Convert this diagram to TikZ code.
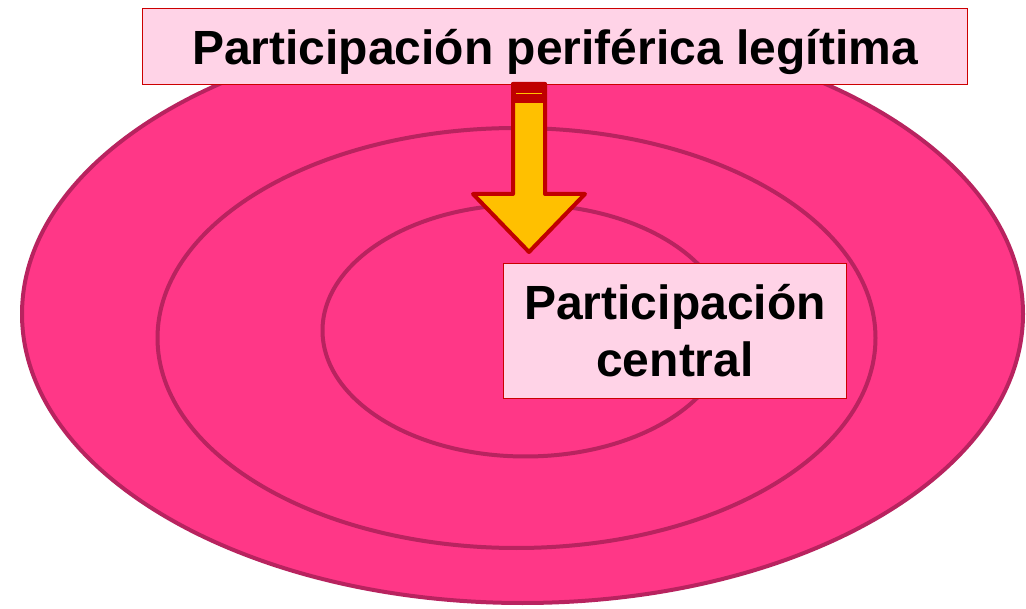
\documentclass[tikz,border=0pt]{standalone}
\usepackage{fontspec}
\setmainfont{Liberation Sans}
\definecolor{ringfill}{HTML}{FF3787}
\definecolor{ringline}{HTML}{B8235F}
\definecolor{boxfill}{HTML}{FFD3E7}
\definecolor{boxline}{HTML}{CC0000}
\definecolor{arrowfill}{HTML}{FFC000}
\definecolor{arrowline}{HTML}{C00000}
\tikzset{
  ring/.style={fill=ringfill, draw=ringline, line width=4pt},
  namebox/.style={fill=boxfill, draw=boxline, line width=1.5pt, inner sep=0pt,
    font=\bfseries\fontsize{48}{57}\selectfont},
  blockarrow/.style={fill=arrowfill, draw=arrowline, line width=4pt, line join=round},
  arrowband/.style={fill=arrowline, draw=arrowline, line width=4pt, line join=round},
}
\begin{document}
\begin{tikzpicture}[x=1pt,y=-1pt]
  \useasboundingbox (0,0) rectangle (1026,609);
  % rings
  \draw[ring] (522.5,314) ellipse [x radius=500.5, y radius=289];
  \draw[ring] (516.5,338) ellipse [x radius=359, y radius=210];
  \draw[ring] (525.5,330.5) ellipse [x radius=203, y radius=126];
  % labels
  \node[namebox, minimum width=825pt, minimum height=76pt, text height=37pt, text depth=0pt]
    (periphery) at (555,46.5) {Participación periférica legítima};
  \node[namebox, minimum width=343pt, minimum height=135pt, align=center]
    (core) at (675,331) {Participación\\central};
  % arrow
  \coordinate (tail) at (529,84);
  \coordinate (tip) at (529,252);
  \draw[blockarrow] ([xshift=-16pt]tail) -- ([xshift=16pt]tail) -- ++(0,110) -- ++(40,0)
    -- (tip) -- ++(-56,-58) -- ++(40,0) -- cycle;
  \draw[arrowband] ([xshift=-16pt]tail) rectangle ([xshift=16pt,yshift=-17pt]tail);
  \draw[arrowfill, line width=1.2pt] ([xshift=-13pt,yshift=-9.5pt]tail) -- ([xshift=13pt,yshift=-9.5pt]tail);
\end{tikzpicture}
\end{document}
